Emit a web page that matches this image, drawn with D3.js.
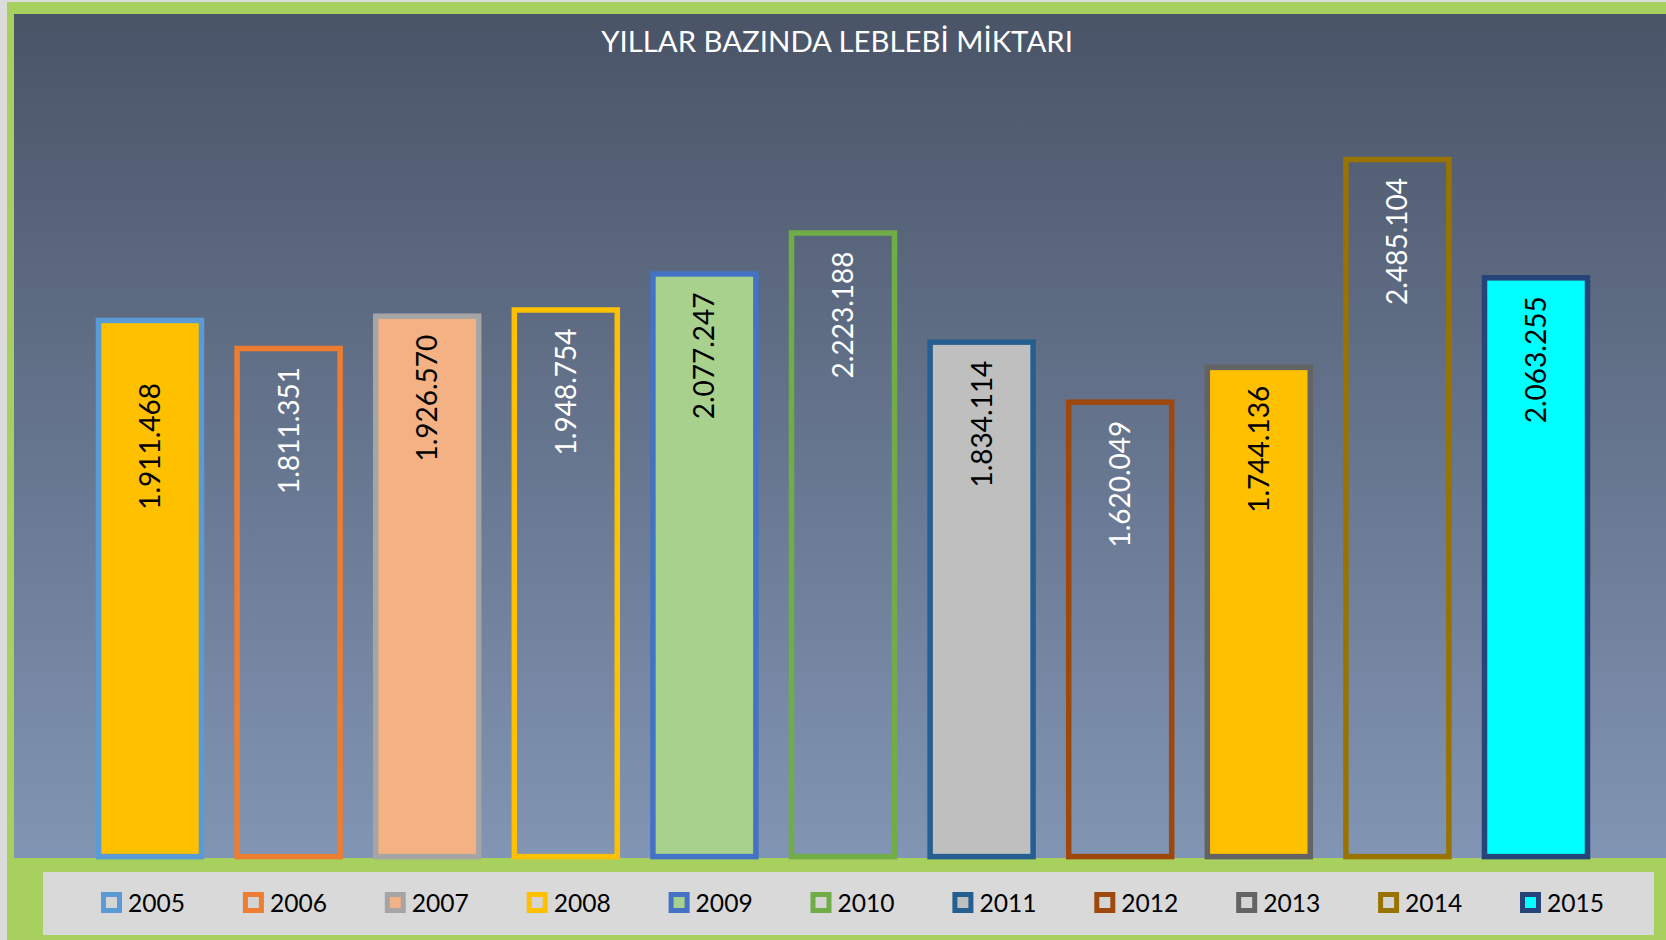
<!DOCTYPE html>
<html>
<head>
<meta charset="utf-8">
<script src="https://cdn.jsdelivr.net/npm/d3@7/dist/d3.min.js"></script>
<style>
  html, body { margin: 0; padding: 0; background: #ffffff; }
  svg { display: block; }
</style>
</head>
<body>
<svg id="chart" width="1666" height="940"></svg>
<script>
// ---- data ----
const years = ["2005","2006","2007","2008","2009","2010","2011","2012","2013","2014","2015"];
const values = [1911468, 1811351, 1926570, 1948754, 2077247, 2223188, 1834114, 1620049, 1744136, 2485104, 2063255];
const barFills = ["#FFC000","none","#F4B183","none","#A9D18E","none","#BFBFBF","none","#FFC000","none","#00FFFF"];
const legendFills = ["#D4D4D4","#D4D4D4","#F4B183","#D4D4D4","#A9D18E","#D4D4D4","#BFBFBF","#D4D4D4","#D4D4D4","#D4D4D4","#00FFFF"];
const strokeColors = ["#5B9BD5","#ED7D31","#A5A5A5","#FFC000","#4472C4","#70AD47","#255E91","#9E480E","#636363","#997300","#264478"];
const labelColors = ["#000000","#ffffff","#000000","#ffffff","#000000","#ffffff","#000000","#ffffff","#000000","#ffffff","#000000"];
const yMax = 3000000; // value axis maximum (axis itself is hidden in the reference)
const title = "YILLAR BAZINDA LEBLEBİ MİKTARI";

const W = 1666, H = 940;
const FONT = "Lato, 'Open Sans', sans-serif";
const svg = d3.select("#chart");

// frame
svg.append("rect").attr("x",0).attr("y",0).attr("width",W).attr("height",H).attr("fill","#A7D05F");
svg.append("rect").attr("x",0).attr("y",0).attr("width",7).attr("height",H).attr("fill","#DCDCDC");
svg.append("rect").attr("x",0).attr("y",0).attr("width",W).attr("height",2).attr("fill","#DCDCDC");

// plot area gradient
const defs = svg.append("defs");
const grad = defs.append("linearGradient").attr("id","bg").attr("x1",0).attr("y1",0).attr("x2",0).attr("y2",1);
grad.append("stop").attr("offset","0%").attr("stop-color","#4A5467");
grad.append("stop").attr("offset","100%").attr("stop-color","#8195B4");
svg.append("rect").attr("x",14).attr("y",14).attr("width",W-14).attr("height",858-14).attr("fill","url(#bg)");

// scales
const x = d3.scaleBand().domain(years).range([80.7, 1605.3]).paddingInner(0.257).paddingOuter(0.1285);
const y = d3.scaleLinear().domain([0, yMax]).range([856.6, 15.1]);

// bars
const data = years.map((yr,i)=>({yr, v: values[i], fill: barFills[i], stroke: strokeColors[i], lc: labelColors[i], lf: legendFills[i]}));
svg.append("g").selectAll("rect").data(data).join("rect")
  .attr("x", d => x(d.yr))
  .attr("y", d => y(d.v))
  .attr("width", x.bandwidth())
  .attr("height", d => y(0) - y(d.v))
  .attr("fill", d => d.fill)
  .attr("stroke", d => d.stroke)
  .attr("stroke-width", 5.5);

// labels (inside end, rotated)
const labelNudge = {"2005": 44};
const fmt = v => d3.format(",")(v).replace(/,/g, ".");
svg.append("g").selectAll("text").data(data).join("text")
  .attr("transform", d => `translate(${x(d.yr) + x.bandwidth()/2},${y(d.v) + 18.5 + (labelNudge[d.yr]||0)}) rotate(-90)`)
  .attr("text-anchor","end")
  .attr("dy","0.36em")
  .attr("font-family", FONT)
  .attr("font-size", 28)
  .attr("fill", d => d.lc)
  .text(d => fmt(d.v));

// title
const t = svg.append("text")
  .attr("x", 837).attr("y", 51.5)
  .attr("text-anchor","middle")
  .attr("font-family", FONT)
  .attr("font-size", 26)
  .attr("fill","#ffffff")
  .text(title);
const tw = t.node().getComputedTextLength();
t.attr("font-size", 26 * 472 / tw);

// legend
svg.append("rect").attr("x",43).attr("y",872).attr("width",1654-43).attr("height",935-872).attr("fill","#D9D9D9");
const lg = svg.append("g").selectAll("g").data(data).join("g")
  .attr("transform", (d,i) => `translate(${101 + i*141.9},892)`);
lg.append("rect").attr("x",2.5).attr("y",2.5).attr("width",16).attr("height",16)
  .attr("fill", d => d.lf).attr("stroke", d => d.stroke).attr("stroke-width",5);
lg.append("text").attr("x",27).attr("y",19.7)
  .attr("font-family", FONT).attr("font-size", 24.6).attr("fill","#000000")
  .text(d => d.yr);
</script>
</body>
</html>
